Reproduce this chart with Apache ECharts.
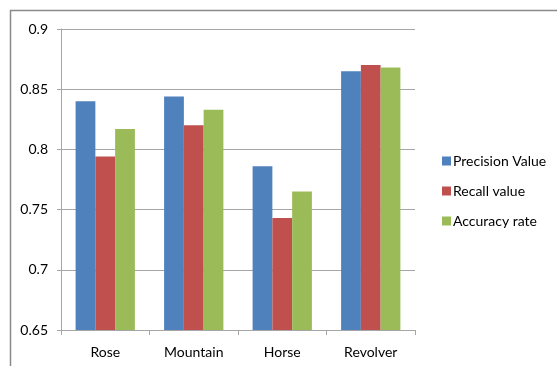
<!DOCTYPE html>
<html>
<head>
<meta charset="utf-8">
<script src="https://cdn.jsdelivr.net/npm/echarts@6/dist/echarts.min.js"></script>
<style>
  html, body { margin: 0; padding: 0; background: #fff; }
  #chart { width: 557px; height: 366px; }
</style>
</head>
<body>
<div id="chart"></div>
<script>
// Categories and per-series scores
const categories = ['Rose', 'Mountain', 'Horse', 'Revolver'];
const precisionValue = [0.840, 0.844, 0.786, 0.865];
const recallValue = [0.794, 0.820, 0.743, 0.870];
const accuracyRate = [0.817, 0.833, 0.765, 0.868];
const seriesNames = ['Precision Value', 'Recall value', 'Accuracy rate'];

const FONT = 'Lato, "Open Sans", sans-serif';
const colors = ['#4F81BD', '#C0504D', '#9BBB59'];

const chart = echarts.init(document.getElementById('chart'), null, { renderer: 'canvas' });

function barSeries(name, data, color) {
  return {
    name: name,
    type: 'bar',
    data: data,
    barGap: '0%',
    barCategoryGap: '33%',
    itemStyle: { color: color },
    emphasis: { disabled: true }
  };
}

chart.setOption({
  animation: false,
  color: colors,
  graphic: [{
    type: 'rect',
    shape: { x: 10.5, y: 10.5, width: 560, height: 370 },
    style: { fill: 'none', stroke: '#8a8a8a', lineWidth: 1.5 },
    silent: true
  }],
  grid: { left: 61, top: 29, width: 354, height: 301, containLabel: false },
  legend: {
    orient: 'vertical',
    left: 437,
    top: 148,
    itemWidth: 9,
    itemHeight: 9,
    itemGap: 14,
    icon: 'rect',
    selectedMode: false,
    textStyle: { fontFamily: FONT, fontSize: 14, color: '#000', padding: [0, 0, 0, -3], lineHeight: 16 },
    data: seriesNames
  },
  xAxis: {
    type: 'category',
    data: categories,
    axisLine: { lineStyle: { color: '#a6a6a6' } },
    axisTick: { show: true, length: 5, lineStyle: { color: '#a6a6a6' } },
    axisLabel: { fontFamily: FONT, fontSize: 14, color: '#000', margin: 15 },
    splitLine: { show: false }
  },
  yAxis: {
    type: 'value',
    min: 0.65,
    max: 0.9,
    interval: 0.05,
    axisLine: { show: true, lineStyle: { color: '#a6a6a6' } },
    axisTick: { show: true, length: 4, lineStyle: { color: '#a6a6a6' } },
    axisLabel: {
      fontFamily: FONT, fontSize: 14, color: '#000', margin: 13,
      formatter: v => String(parseFloat(v.toFixed(2)))
    },
    splitLine: { lineStyle: { color: '#a6a6a6' } }
  },
  series: [
    barSeries(seriesNames[0], precisionValue, colors[0]),
    barSeries(seriesNames[1], recallValue, colors[1]),
    barSeries(seriesNames[2], accuracyRate, colors[2])
  ]
});
</script>
</body>
</html>
